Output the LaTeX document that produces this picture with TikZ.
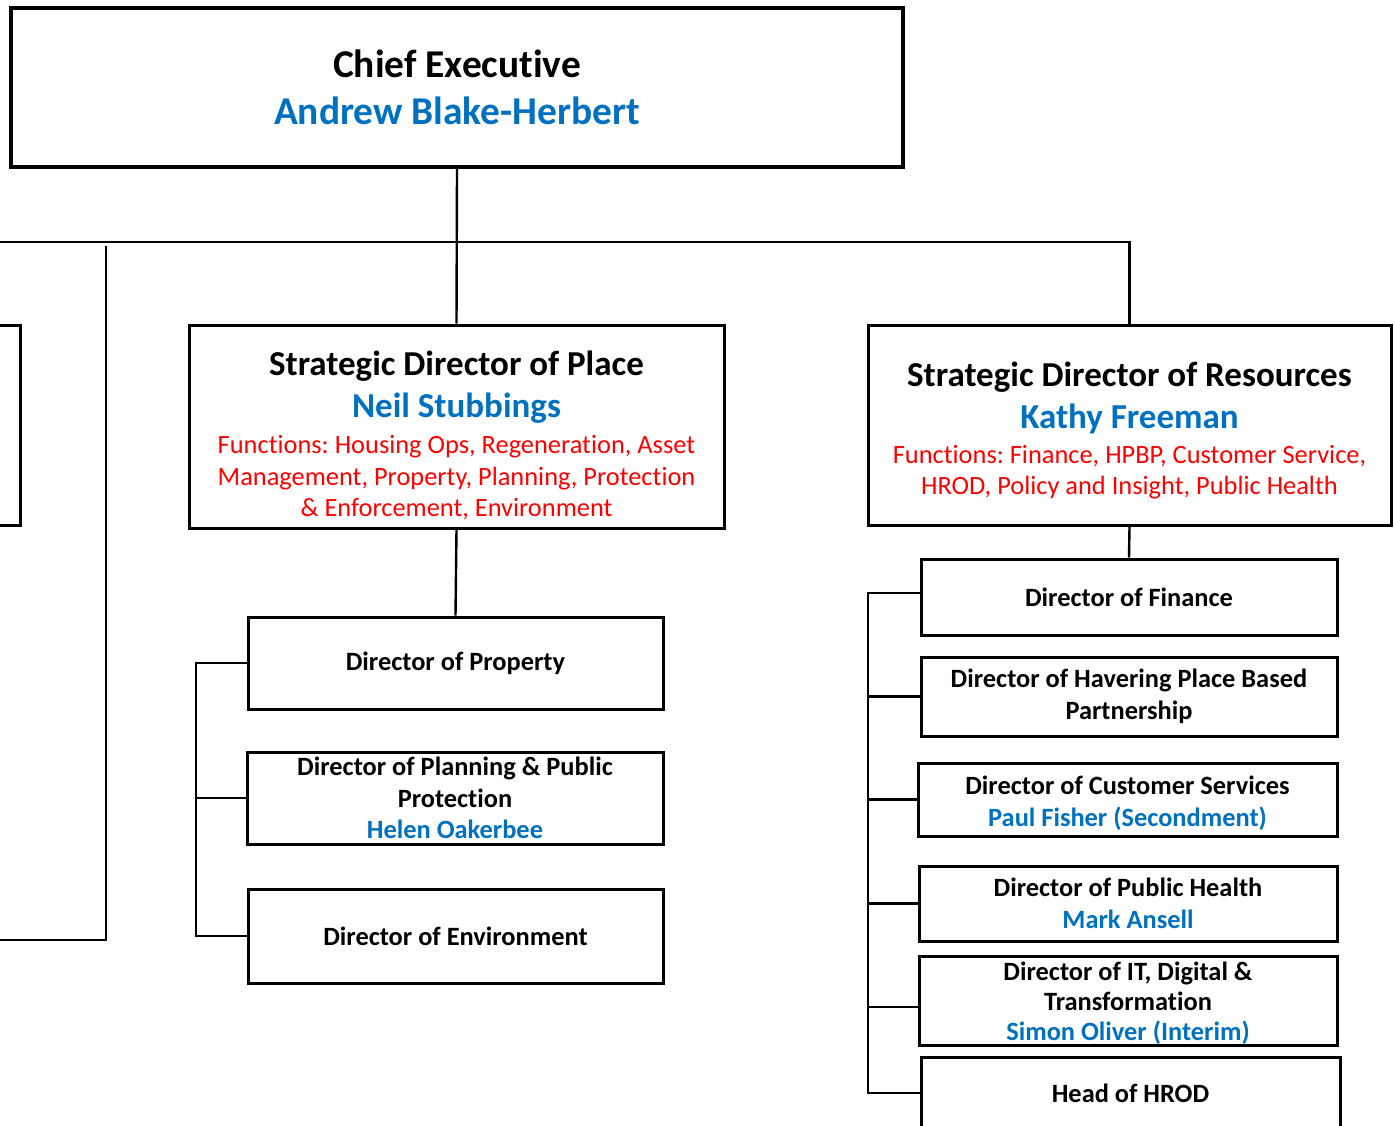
\documentclass[tikz,border=0pt]{standalone}
\usepackage{fontspec}
\setmainfont{Carlito}[Ligatures=NoCommon]
\usepackage{xcolor}
\usepackage{tikz}
\usetikzlibrary{positioning}
\frenchspacing

\definecolor{nameblue}{HTML}{0070C0}
\definecolor{funcred}{HTML}{FF0000}
\newcommand{\who}[1]{{\color{nameblue}#1}}
\newcommand{\remit}[1]{{\color{funcred}\mdseries\fontsize{26.4}{31.5}\selectfont #1}}

\begin{document}
\begin{tikzpicture}[
    x=1pt, y=-1pt,
    box/.style={rectangle, draw, line width=3pt, inner sep=0pt, align=center, font=\bfseries\fontsize{26.4}{31.5}\selectfont},
    topbox/.style={box, line width=3.5pt, font=\bfseries\fontsize{39.4}{47}\selectfont},
    sdbox/.style={box, font=\bfseries\fontsize{35}{31.5}\selectfont},
    link/.style={line width=2.4pt}
]
\useasboundingbox (0,0) rectangle (1394,1125);

% top level
\node[topbox, minimum width=892pt, minimum height=159pt] (ce) at (457,87.5) {Chief Executive\\ \who{Andrew Blake-Herbert}};

% strategic directors
\node[sdbox, minimum width=520pt, minimum height=200pt] (people) at (-240,425) {};
\node[sdbox, minimum width=535pt, minimum height=203pt] (place) at (456.5,426.5)
    {\rule{0pt}{42pt}Strategic Director of Place\\[10.5pt] \who{Neil Stubbings}\\[5pt]
     \remit{Functions: Housing Ops, Regeneration, Asset}\\ \remit{Management, Property, Planning, Protection}\\ \remit{\& Enforcement, Environment}};
\node[sdbox, minimum width=523pt, minimum height=200pt] (res) at (1129.5,425)
    {\rule{0pt}{36pt}Strategic Director of Resources\\[10.5pt] \who{Kathy Freeman}\\[3pt]
     \remit{Functions: Finance, HPBP, Customer Service,}\\ \remit{HROD, Policy and Insight, Public Health}};

% place directors
\node[box, minimum width=415pt, minimum height=92pt] (prop) at (455.5,663) {Director of Property};
\node[box, minimum width=416pt, minimum height=92pt] (plan) at (455,798) {Director of Planning \& Public\\ Protection\\ \who{Helen Oakerbee}};
\node[box, minimum width=415pt, minimum height=94pt] (env) at (455.5,936) {Director of Environment};

% resources directors
\node[box, minimum width=416pt, minimum height=76pt] (fin) at (1129,597) {Director of Finance};
\node[box, minimum width=416pt, minimum height=79pt] (hav) at (1129,696.5) {Director of Havering Place Based\\ Partnership};
\node[box, minimum width=419pt, minimum height=73pt] (cust) at (1127.5,799.5) {\rule{0pt}{26pt}Director of Customer Services\\[1pt] \who{Paul Fisher (Secondment)}};
\node[box, minimum width=418pt, minimum height=75pt] (ph) at (1128,903.5) {Director of Public Health\\[1pt] \who{Mark Ansell}};
\node[box, minimum width=418pt, minimum height=89pt, font=\bfseries\fontsize{26.4}{30}\selectfont] (it) at (1128,1000.5)
    {\rule{0pt}{24pt}Director of IT, Digital \&\\ Transformation\\ \who{Simon Oliver (Interim)}};
\node[box, minimum width=419pt, minimum height=72pt] (hrod) at (1130.5,1093) {Head of HROD};

% connectors
\coordinate (busw) at (-300,242);
\coordinate (lefttop) at (106,246);
\coordinate (leftend) at (-300,940);
\coordinate (pbar) at (196,663);
\coordinate (finlink) at ([yshift=4pt]fin.west);
\coordinate (rbar) at (868,593);
\coordinate (itlink) at ([yshift=-6.5pt]it.west);

\draw[link] (ce.south) -- (place.north);
\draw[link] (busw) -| (res.north);
\draw[link] (lefttop) |- (leftend);

\draw[link] (place.south) -- (prop.north);
\draw[link] (prop.west) -- (pbar) |- (env.west);
\draw[link] (plan.west) -- (pbar |- plan.west);

\draw[link] (res.south) -- (fin.north);
\draw[link] (finlink) -- (rbar) |- (hrod.west);
\draw[link] (hav.west) -- (rbar |- hav.west);
\draw[link] (cust.west) -- (rbar |- cust.west);
\draw[link] (ph.west) -- (rbar |- ph.west);
\draw[link] (itlink) -- (rbar |- itlink);

\end{tikzpicture}
\end{document}
